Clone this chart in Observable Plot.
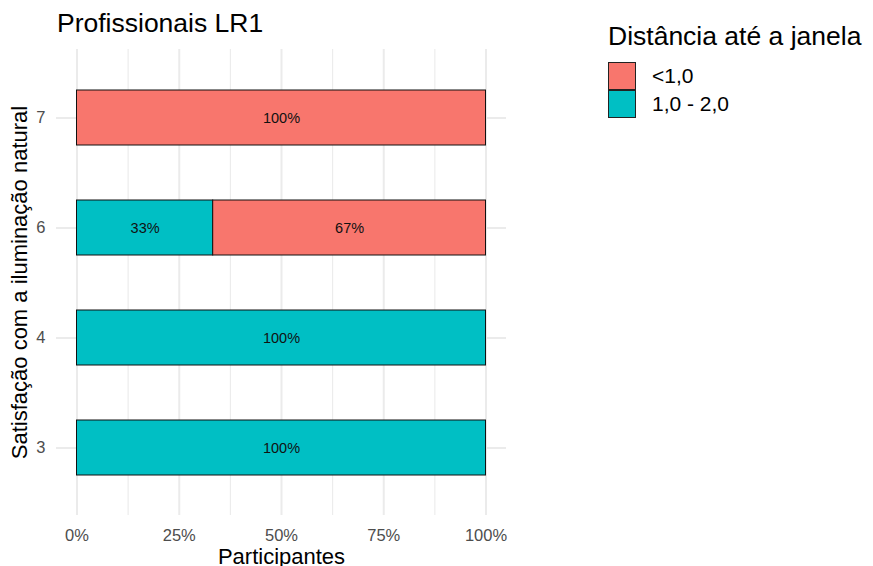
<!DOCTYPE html>
<html><head><meta charset="utf-8">
<script src="https://cdn.jsdelivr.net/npm/d3@7"></script>
<script src="https://cdn.jsdelivr.net/npm/@observablehq/plot@0.6"></script>
<style>
body{margin:0;background:#fff;font-family:"Liberation Sans",Arial,sans-serif;}
#wrap{position:relative;width:873px;height:566px;overflow:hidden;background:#fff}
#title{position:absolute;left:57px;top:9.6px;font-size:26.5px;line-height:26.5px;color:#000;white-space:nowrap}
#legend{position:absolute;left:608px;top:22.6px;color:#000}
#legend .lt{font-size:26.5px;line-height:26.5px;white-space:nowrap;margin-bottom:13px}
#legend .row{display:flex;align-items:center;height:28px}
#legend .key{width:26px;height:26px;border:1px solid #222;box-sizing:content-box}
#legend .lab{font-size:21px;margin-left:16px;white-space:nowrap}
#chart svg g[aria-label="x-axis tick label"], #chart svg g[aria-label="y-axis tick label"]{fill:#4D4D4D;font-size:16.5px}
#chart svg g[aria-label="x-axis label"], #chart svg g[aria-label="y-axis label"]{fill:#000;font-size:22px}
</style></head><body>
<div id="wrap">
  <div id="chart"></div>
  <div id="title">Profissionais LR1</div>
  <div id="legend"></div>
</div>
<script>
const categories = ["7", "6", "4", "3"];
const groups = ["<1,0", "1,0 - 2,0"];
const colors = ["#F8766D", "#00BFC4"];
const shareNear = [1, 0.667, 0, 0];      // <1,0
const shareMid = [0, 0.333, 1, 1];       // 1,0 - 2,0
const labelsNear = ["100%", "67%", "", ""];
const labelsMid = ["", "33%", "100%", "100%"];
const xTicks = [0, 0.25, 0.5, 0.75, 1];
const xMinor = [0.125, 0.375, 0.625, 0.875];
const legendTitle = "Distância até a janela";
const yTitle = "Satisfação com a iluminação natural";
const xTitle = "Participantes";

const rows = [];
categories.forEach((c, i) => {
  if (shareMid[i] > 0) rows.push({cat: c, group: groups[1], value: shareMid[i], label: labelsMid[i]});
  if (shareNear[i] > 0) rows.push({cat: c, group: groups[0], value: shareNear[i], label: labelsNear[i]});
});

const chart = Plot.plot({
  width: 873, height: 566,
  marginLeft: 56, marginRight: 367, marginTop: 49, marginBottom: 51,
  insetLeft: 20.5, insetRight: 20.5,
  style: {fontFamily: "Liberation Sans, Arial, sans-serif", background: "#fff"},
  x: {domain: [0, 1]},
  y: {domain: categories, paddingInner: 0.5, paddingOuter: 0.35},
  color: {domain: groups, range: colors},
  marks: [
    Plot.ruleX(xMinor, {stroke: "#EBEBEB", strokeWidth: 1.1}),
    Plot.ruleX(xTicks, {stroke: "#EBEBEB", strokeWidth: 2}),
    Plot.ruleY(categories, {stroke: "#EBEBEB", strokeWidth: 2}),
    Plot.barX(rows, {x: "value", y: "cat", fill: "group", stroke: "#111", strokeWidth: 1, order: null}),
    Plot.text(rows, Plot.stackX({x: "value", y: "cat", z: "group", text: "label", order: null, fontSize: 14.5, fill: "#111"})),
    Plot.axisX({ticks: xTicks, tickFormat: d3.format(".0%"), tickSize: 0, tickPadding: 14,
      label: xTitle, labelArrow: "none", labelAnchor: "center", labelOffset: 48.5}),
    Plot.axisY({tickSize: 0, tickPadding: 11, label: yTitle, labelArrow: "none", labelAnchor: "center", labelOffset: 45})
  ]
});
document.getElementById("chart").appendChild(chart);

const lg = document.getElementById("legend");
const t = document.createElement("div"); t.className = "lt"; t.textContent = legendTitle; lg.appendChild(t);
groups.forEach((g, i) => {
  const r = document.createElement("div"); r.className = "row";
  const k = document.createElement("div"); k.className = "key"; k.style.background = colors[i];
  const l = document.createElement("div"); l.className = "lab"; l.textContent = g;
  r.appendChild(k); r.appendChild(l); lg.appendChild(r);
});
</script>
</body></html>
